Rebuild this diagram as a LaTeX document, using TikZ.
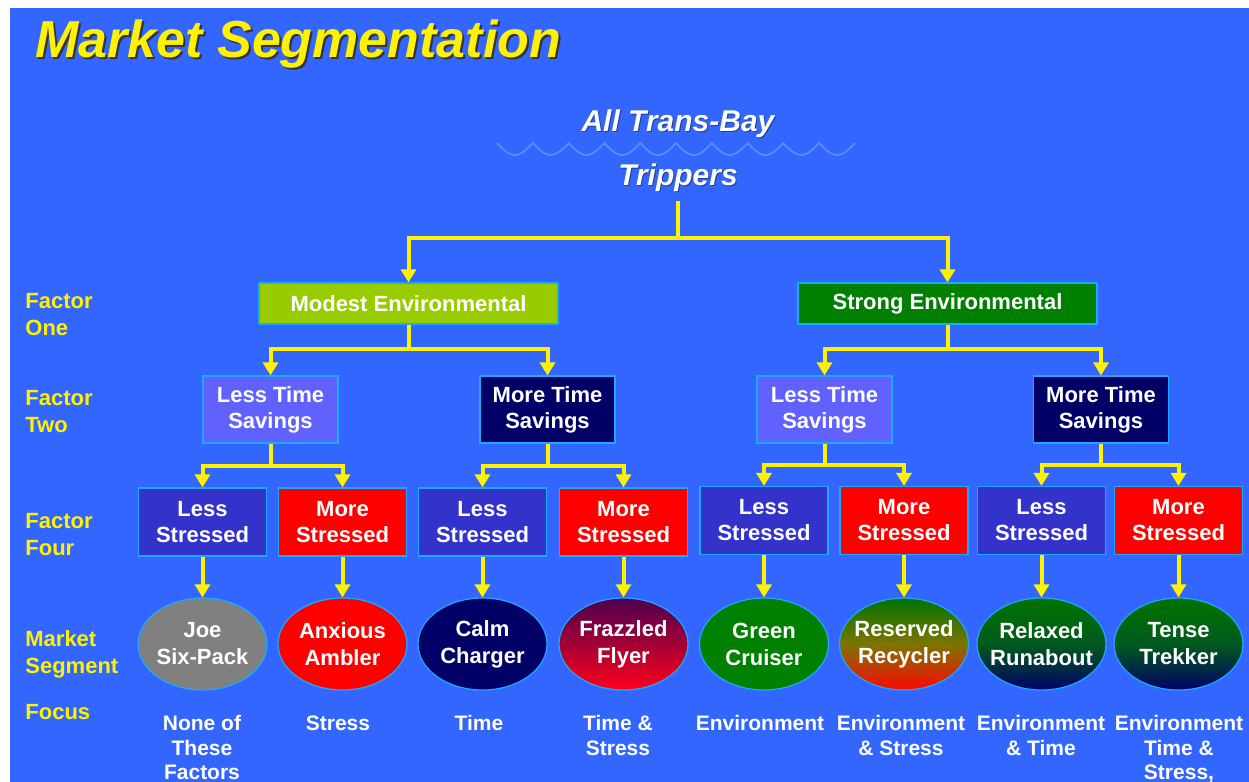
\documentclass[tikz,border=0pt]{standalone}
\usepackage{fontspec}
\setmainfont{Liberation Sans}
\usetikzlibrary{arrows.meta,shapes.geometric}

\definecolor{slide}{HTML}{3366FF}
\definecolor{ripple}{HTML}{5E8EF7}
\definecolor{rim}{HTML}{1AAAFF}
\definecolor{modest}{HTML}{99CC00}
\definecolor{strong}{HTML}{008000}
\definecolor{lesstime}{HTML}{6161FF}
\definecolor{deepnavy}{HTML}{000066}
\definecolor{calm}{HTML}{3333CC}
\definecolor{tense}{HTML}{FF0000}

\tikzset{
  link/.style={draw=yellow, line width=2pt, -{Triangle[width=7.5pt,length=6.5pt]}},
  box/.style={draw=rim, line width=0.6pt, inner sep=0pt, align=center, text=white,
    font=\bfseries\fontsize{11}{13}\selectfont},
  factorone/.style={box, minimum width=149.5pt, minimum height=20.5pt},
  factortwo/.style={box, minimum width=67.5pt, minimum height=33.5pt},
  factorfour/.style={box, minimum width=64pt, minimum height=34pt},
  segment/.style={ellipse, draw=rim, line width=0.6pt, inner sep=-5pt,
    minimum width=64.5pt, minimum height=46pt, align=center, text=white,
    font=\bfseries\fontsize{11}{13.5}\selectfont},
  rowlabel/.style={anchor=west, inner sep=0pt, align=left, text=yellow,
    font=\bfseries\fontsize{11}{13.5}\selectfont},
  focus/.style={anchor=north, inner sep=0pt, align=center, text=white,
    font=\bfseries\fontsize{10.5}{12.3}\selectfont},
  heading/.style={inner sep=0pt, font=\bfseries\itshape\fontsize{15}{18}\selectfont},
}

\begin{document}
\begin{tikzpicture}[x=0.5pt,y=-0.5pt]
  \useasboundingbox (0,0) rectangle (1249,782);
  \fill[white] (0,0) rectangle (1249,782);
  \fill[slide] (10,8) rectangle (1249,782);

  % title, shadow first
  \node[anchor=base west, inner sep=0pt, text=black!80,
        font=\bfseries\itshape\fontsize{26}{30}\selectfont] (titleshadow) at (37,59) {Market Segmentation};
  \node[anchor=base west, inner sep=0pt, text=yellow,
        font=\bfseries\itshape\fontsize{26}{30}\selectfont] (title) at (35,57) {Market Segmentation};

  % top of the tree
  \node[heading, text=slide!60!black] (allbayshadow) at (679,125) {All Trans-Bay};
  \node[heading, text=white] (allbay) at (678,124) {All Trans-Bay};
  % ripple line, 10 humps
  \draw[ripple, line width=0.8pt] plot[domain=0:358, samples=241]
        ({497+\x},{143+12*abs(sin(5.0279*\x))});
  \node[heading, text=slide!60!black] (tripshadow) at (679,179) {Trippers};
  \node[heading, text=white] (trip) at (678,178) {Trippers};
  \coordinate (root) at (678,201);

  % row labels
  \node[rowlabel] (rowone) at (25,314.5) {Factor\\One};
  \node[rowlabel] (rowtwo) at (25,411.5) {Factor\\Two};
  \node[rowlabel] (rowfour) at (25,534.5) {Factor\\Four};
  \node[rowlabel] (rowseg) at (25,654) {Market\\Segment};
  \node[rowlabel] (rowfocus) at (25,712) {Focus};

  % factor one
  \node[factorone, fill=modest] (modest) at (408.5,303.5) {Modest Environmental};
  \node[factorone, fill=strong] (strong) at (947.5,303.5) {Strong Environmental};
  \draw[link] (root) -- ++(0,37) -| (modest.north);
  \draw[link] (root) -- ++(0,37) -| (strong.north);

  % factor two
  \node[factortwo, fill=lesstime] (ltl) at (270.5,409.5) {Less Time\\Savings};
  \node[factortwo, fill=deepnavy] (mtl) at (547.5,409.5) {More Time\\Savings};
  \node[factortwo, fill=lesstime] (ltr) at (824.5,409.5) {Less Time\\Savings};
  \node[factortwo, fill=deepnavy] (mtr) at (1101,409.5) {More Time\\Savings};
  \draw[link] (modest.south) -- ++(0,24) -| (ltl.north);
  \draw[link] (modest.south) -- ++(0,24) -| (mtl.north);
  \draw[link] (strong.south) -- ++(0,24) -| (ltr.north);
  \draw[link] (strong.south) -- ++(0,24) -| (mtr.north);

  % factor four
  \node[factorfour, fill=calm] (lsa) at (202.5,522) {Less\\Stressed};
  \node[factorfour, fill=tense] (msa) at (342.5,522) {More\\Stressed};
  \node[factorfour, fill=calm] (lsb) at (482.5,522) {Less\\Stressed};
  \node[factorfour, fill=tense] (msb) at (623.5,522) {More\\Stressed};
  \node[factorfour, fill=calm] (lsc) at (764,520.5) {Less\\Stressed};
  \node[factorfour, fill=tense] (msc) at (904,520.5) {More\\Stressed};
  \node[factorfour, fill=calm] (lsd) at (1041.5,520.5) {Less\\Stressed};
  \node[factorfour, fill=tense] (msd) at (1178.5,520.5) {More\\Stressed};
  \draw[link] (ltl.south) -- ++(0,22) -| (lsa.north);
  \draw[link] (ltl.south) -- ++(0,22) -| (msa.north);
  \draw[link] (mtl.south) -- ++(0,22) -| (lsb.north);
  \draw[link] (mtl.south) -- ++(0,22) -| (msb.north);
  \draw[link] (ltr.south) -- ++(0,21) -| (lsc.north);
  \draw[link] (ltr.south) -- ++(0,21) -| (msc.north);
  \draw[link] (mtr.south) -- ++(0,21) -| (lsd.north);
  \draw[link] (mtr.south) -- ++(0,21) -| (msd.north);

  % market segments
  \node[segment, fill=gray] (joe) at (202.5,644) {Joe\\Six-Pack};
  \node[segment, fill=tense] (anxious) at (342.5,644) {Anxious\\Ambler};
  \node[segment, fill=deepnavy] (calmch) at (482.5,644) {Calm\\Charger};
  \node[segment, top color=violet!60!black, bottom color=red!90!magenta,
        middle color=purple!85!black] (frazzled) at (623.5,644) {Frazzled\\Flyer};
  \node[segment, fill=strong] (green) at (764,644) {Green\\Cruiser};
  \node[segment, top color=strong!90!black, bottom color=red!95!orange,
        middle color=orange!70!green!70!black] (reserved) at (904,644) {Reserved\\Recycler};
  \node[segment, top color=strong!90!black, bottom color=deepnavy,
        middle color=strong!70!deepnavy] (relaxed) at (1041.5,644) {Relaxed\\Runabout};
  \node[segment, top color=strong!90!black, bottom color=deepnavy,
        middle color=strong!70!deepnavy] (trekker) at (1178.5,644) {Tense\\Trekker};
  \draw[link] (lsa.south) -- (joe.north);
  \draw[link] (msa.south) -- (anxious.north);
  \draw[link] (lsb.south) -- (calmch.north);
  \draw[link] (msb.south) -- (frazzled.north);
  \draw[link] (lsc.south) -- (green.north);
  \draw[link] (msc.south) -- (reserved.north);
  \draw[link] (lsd.south) -- (relaxed.north);
  \draw[link] (msd.south) -- (trekker.north);

  % focus of each segment
  \node[focus] (fjoe) at (202,715) {None of\\These\\Factors};
  \node[focus] (fanx) at (338,715) {Stress};
  \node[focus] (fcalm) at (479,715) {Time};
  \node[focus] (ffraz) at (618,715) {Time \&\\Stress};
  \node[focus] (fgreen) at (760,715) {Environment};
  \node[focus] (fres) at (901,715) {Environment\\\& Stress};
  \node[focus] (frel) at (1041,715) {Environment\\\& Time};
  \node[focus] (ftrek) at (1179,715) {Environment\\Time \&\\Stress,};
\end{tikzpicture}
\end{document}
